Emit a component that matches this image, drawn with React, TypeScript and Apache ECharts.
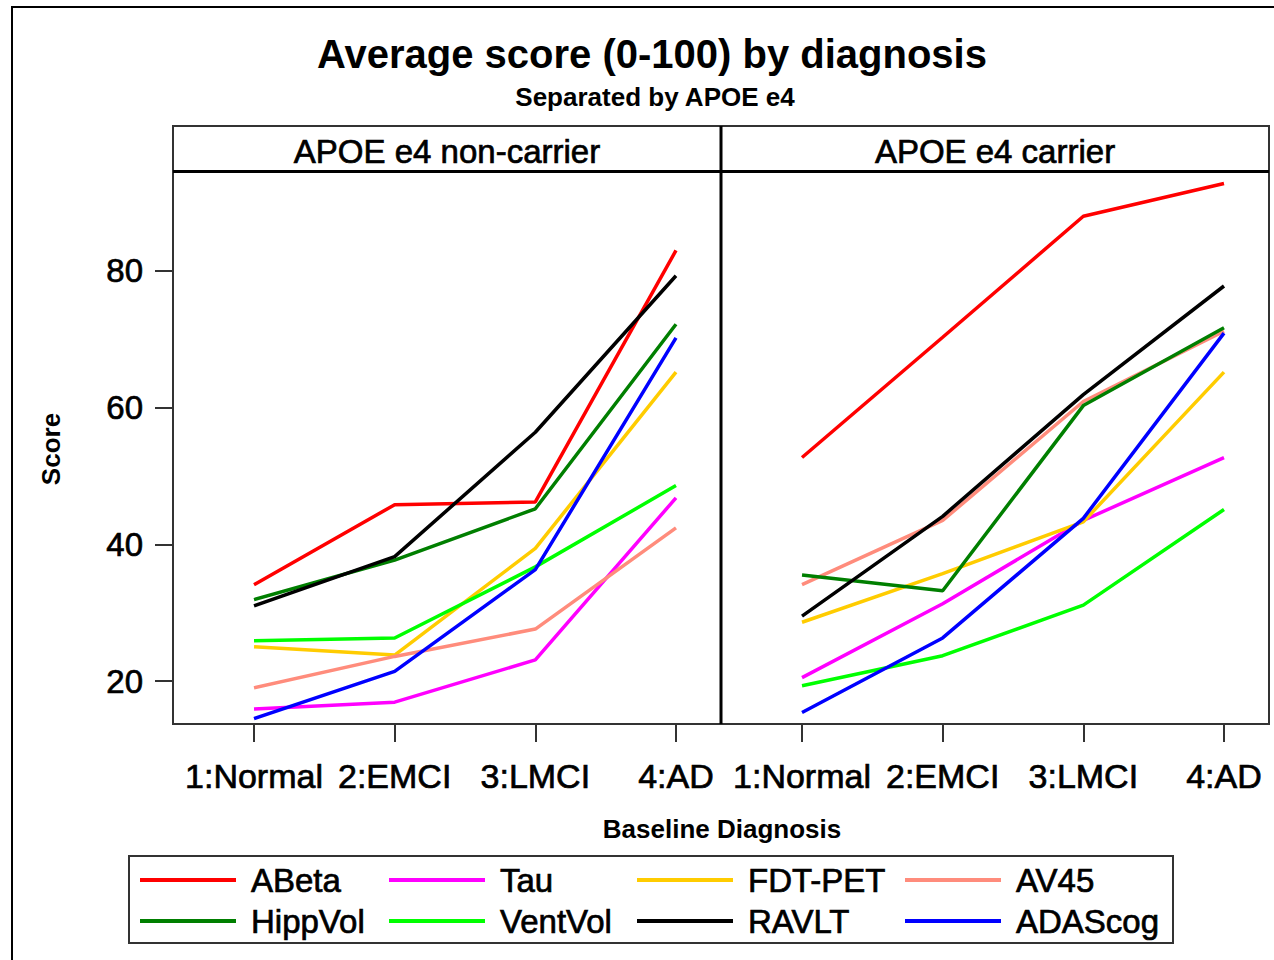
import React, { useEffect, useRef } from "react";
import * as echarts from "echarts";

// Diagnosis groups on the x axis
const diagnoses = ["1:Normal", "2:EMCI", "3:LMCI", "4:AD"];

// Measures, in drawing order
const measures = ["ABeta", "Tau", "FDT-PET", "AV45", "HippVol", "VentVol", "RAVLT", "ADAScog"];
const measureColors = ["#ff0000", "#ff00ff", "#ffcc00", "#ff8c7c", "#007f00", "#00ff00", "#000000", "#0000ff"];

// Average scores, APOE e4 non-carriers
const nonCarrierABeta = [34.1, 45.8, 46.2, 83.0];
const nonCarrierTau = [15.9, 16.9, 23.1, 46.8];
const nonCarrierFdtPet = [25.0, 23.8, 39.4, 65.2];
const nonCarrierAV45 = [19.0, 23.6, 27.6, 42.4];
const nonCarrierHippVol = [31.9, 37.7, 45.2, 72.2];
const nonCarrierVentVol = [25.9, 26.3, 36.7, 48.6];
const nonCarrierRAVLT = [31.0, 38.2, 56.4, 79.3];
const nonCarrierADAScog = [14.5, 21.4, 36.3, 70.2];

// Average scores, APOE e4 carriers
const carrierABeta = [52.7, 70.3, 88.0, 92.8];
const carrierTau = [20.5, 31.3, 43.5, 52.7];
const carrierFdtPet = [28.6, 35.7, 43.3, 65.2];
const carrierAV45 = [34.1, 43.5, 60.9, 71.2];
const carrierHippVol = [35.5, 33.2, 60.3, 71.7];
const carrierVentVol = [19.3, 23.7, 31.1, 45.1];
const carrierRAVLT = [29.5, 44.1, 61.9, 77.8];
const carrierADAScog = [15.4, 26.3, 43.8, 70.9];

const yTicks = [20, 40, 60, 80];
const panelTitles = ["APOE e4 non-carrier", "APOE e4 carrier"];

const nonCarrier = [
  nonCarrierABeta, nonCarrierTau, nonCarrierFdtPet, nonCarrierAV45,
  nonCarrierHippVol, nonCarrierVentVol, nonCarrierRAVLT, nonCarrierADAScog,
];
const carrier = [
  carrierABeta, carrierTau, carrierFdtPet, carrierAV45,
  carrierHippVol, carrierVentVol, carrierRAVLT, carrierADAScog,
];

const FONT = "'Liberation Sans', Arial, Helvetica, sans-serif";
const FRAME = "#333333";
// a thin outline of the same colour gives the labels a slightly heavier stroke
const HEAVY = { textBorderColor: "#000", textBorderWidth: 0.7 };

export default function App() {
  const ref = useRef<HTMLDivElement>(null);

  useEffect(() => {
    if (!ref.current) return;
    const chart = echarts.init(ref.current, undefined, { renderer: "svg" });

    const panelLeft = [173, 721];
    const panelWidth = 548;
    const plotTop = 172;
    const plotBottom = 724;
    const headerTop = 126;

    const toPoints = (vals: number[]) => vals.map((v, i) => [i + 1, v]);

    const series: any[] = [];
    [nonCarrier, carrier].forEach((group, g) => {
      group.forEach((vals, m) => {
        series.push({
          name: measures[m],
          type: "line",
          xAxisIndex: g,
          yAxisIndex: g,
          data: toPoints(vals),
          showSymbol: false,
          symbol: "none",
          color: measureColors[m],
          lineStyle: { width: 3.5, color: measureColors[m] },
          itemStyle: { color: measureColors[m] },
          z: 2 + m,
        });
      });
    });

    const xAxisBase = (gridIndex: number) => ({
      type: "value",
      gridIndex,
      min: 0.424,
      max: 4.32,
      axisLine: { show: false },
      splitLine: { show: false },
      axisTick: {
        show: true,
        inside: false,
        length: 18,
        customValues: [1, 2, 3, 4],
        lineStyle: { color: FRAME, width: 2 },
      },
      axisLabel: {
        show: true,
        margin: 35,
        customValues: [1, 2, 3, 4],
        formatter: (v: number) => diagnoses[Math.round(v) - 1] ?? "",
        color: "#000",
        fontFamily: FONT,
        fontSize: 34,
        ...HEAVY,
      },
    });

    const yAxisBase = (gridIndex: number, showLabels: boolean) => ({
      type: "value",
      gridIndex,
      min: 13.71,
      max: 94.48,
      axisLine: { show: false },
      splitLine: { show: false },
      axisTick: {
        show: showLabels,
        inside: false,
        length: 18,
        customValues: yTicks,
        lineStyle: { color: FRAME, width: 2 },
      },
      axisLabel: {
        show: showLabels,
        margin: 30,
        customValues: yTicks,
        color: "#000",
        fontFamily: FONT,
        fontSize: 33,
        ...HEAVY,
      },
    });

    const legendColumns = [
      ["ABeta", "HippVol"],
      ["Tau", "VentVol"],
      ["FDT-PET", "RAVLT"],
      ["AV45", "ADAScog"],
    ];
    const legendLeft = [140, 389, 637, 905];

    const graphic: any[] = [
      // outer border
      {
        type: "rect",
        shape: { x: 12, y: 7, width: 1300, height: 1000 },
        style: { fill: "none", stroke: "#000", lineWidth: 2 },
        silent: true,
      },
      // title and subtitle
      {
        type: "text",
        x: 652,
        y: 54,
        style: {
          text: "Average score (0-100) by diagnosis",
          align: "center",
          verticalAlign: "middle",
          fontFamily: FONT,
          fontWeight: "bold",
          fontSize: 40,
          fill: "#000",
        },
      },
      {
        type: "text",
        x: 655,
        y: 97,
        style: {
          text: "Separated by APOE e4",
          align: "center",
          verticalAlign: "middle",
          fontFamily: FONT,
          fontWeight: "bold",
          fontSize: 26,
          fill: "#000",
        },
      },
      // y axis name
      {
        type: "text",
        x: 51,
        y: 449,
        rotation: Math.PI / 2,
        style: {
          text: "Score",
          align: "center",
          verticalAlign: "middle",
          fontFamily: FONT,
          fontWeight: "bold",
          fontSize: 26,
          fill: "#000",
        },
      },
      // x axis name
      {
        type: "text",
        x: 722,
        y: 829,
        style: {
          text: "Baseline Diagnosis",
          align: "center",
          verticalAlign: "middle",
          fontFamily: FONT,
          fontWeight: "bold",
          fontSize: 26,
          fill: "#000",
        },
      },
      // legend box
      {
        type: "rect",
        shape: { x: 129, y: 856, width: 1044, height: 87 },
        style: { fill: "none", stroke: FRAME, lineWidth: 2 },
        silent: true,
      },
    ];

    panelLeft.forEach((left, i) => {
      graphic.push({
        type: "rect",
        shape: { x: left, y: headerTop, width: panelWidth, height: plotBottom - headerTop },
        style: { fill: "none", stroke: FRAME, lineWidth: 2 },
        silent: true,
        z: 10,
      });
      graphic.push({
        type: "text",
        x: left + panelWidth / 2,
        y: 151,
        style: {
          text: panelTitles[i],
          align: "center",
          verticalAlign: "middle",
          fontFamily: FONT,
          fontSize: 33,
          fill: "#000",
          stroke: "#000",
          lineWidth: 0.7,
        },
      });
    });
    // header separator and panel divider
    graphic.push({
      type: "line",
      shape: { x1: 173, y1: 171.5, x2: 1269, y2: 171.5 },
      style: { stroke: "#000", lineWidth: 3 },
      silent: true,
      z: 11,
    });
    graphic.push({
      type: "line",
      shape: { x1: 721, y1: headerTop, x2: 721, y2: plotBottom },
      style: { stroke: "#000", lineWidth: 3 },
      silent: true,
      z: 11,
    });

    chart.setOption({
      animation: false,
      backgroundColor: "#ffffff",
      grid: panelLeft.map((left) => ({
        left,
        top: plotTop,
        width: panelWidth,
        height: plotBottom - plotTop,
        containLabel: false,
      })),
      xAxis: [xAxisBase(0), xAxisBase(1)],
      yAxis: [yAxisBase(0, true), yAxisBase(1, false)],
      legend: legendColumns.map((col, i) => ({
        data: col,
        orient: "vertical",
        left: legendLeft[i],
        top: 862,
        padding: 0,
        itemGap: 5,
        itemWidth: 96,
        itemHeight: 4,
        icon: "rect",
        selectedMode: false,
        textStyle: {
          fontFamily: FONT,
          fontSize: 33,
          lineHeight: 36,
          color: "#000",
          padding: [0, 0, 0, 10],
          ...HEAVY,
        },
      })),
      graphic,
      series,
    });

    return () => chart.dispose();
  }, []);

  return (
    <div
      ref={ref}
      style={{ position: "absolute", left: 0, top: 0, width: 1274, height: 960, background: "#fff" }}
    />
  );
}
